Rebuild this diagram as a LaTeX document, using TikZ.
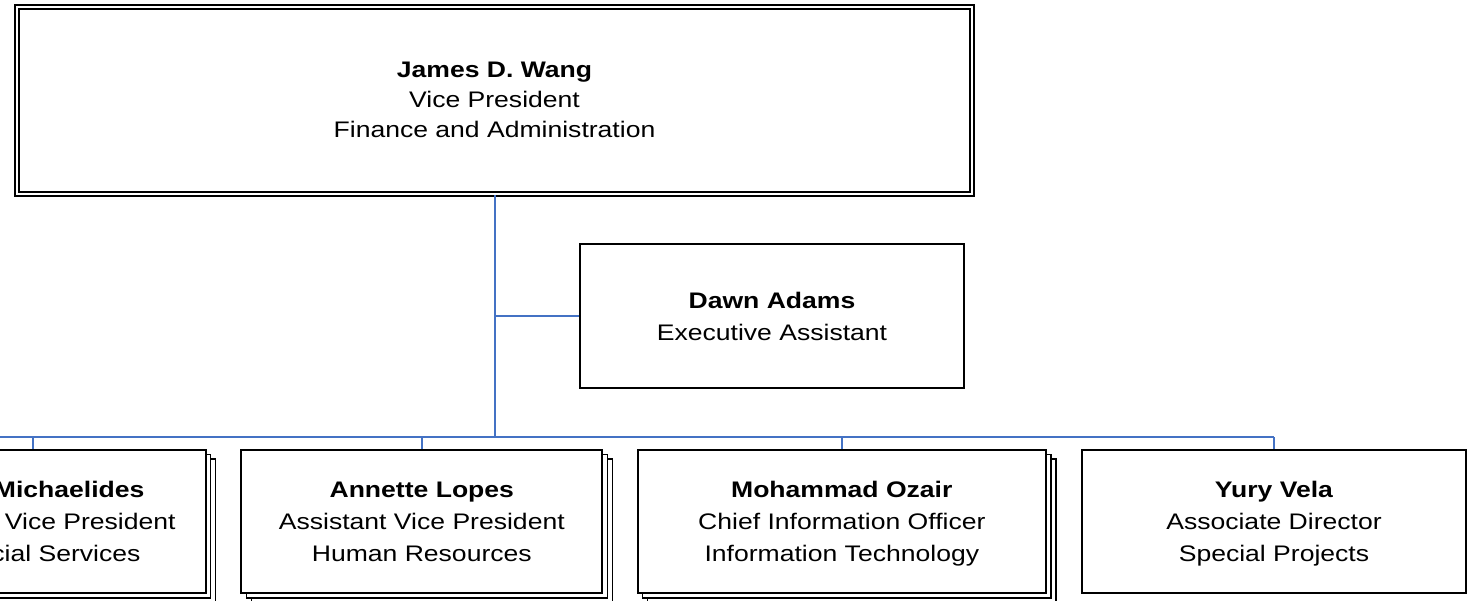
\documentclass[tikz,border=0pt]{standalone}
\usepackage{fontspec}
\setmainfont[FakeStretch=1.18]{Liberation Sans}
\usetikzlibrary{shadows}
\definecolor{linkblue}{RGB}{68,114,196}

\begin{document}
\begin{tikzpicture}[x=0.5pt, y=-0.5pt,
    orgbox/.style={draw, fill=white, line width=1pt, rectangle, inner sep=0pt,
        align=center, text depth=0pt, font=\fontsize{11.25pt}{16pt}\selectfont},
    stackbox/.style={orgbox,
        general shadow={shadow xshift=5pt, shadow yshift=-4.5pt, fill=white, draw=black, line width=0.7pt},
        general shadow={shadow xshift=2.5pt, shadow yshift=-2.25pt, fill=white, draw=black, line width=0.7pt}},
    link/.style={draw=linkblue, line width=1pt}]
    \useasboundingbox (0,0) rectangle (1473,600);
    \clip (0,0) rectangle (1473,600);
    % Head of the division
    \node[orgbox, double, double distance=1pt, minimum width=477.5pt, minimum height=93.75pt,
        font=\fontsize{11.25pt}{15pt}\selectfont] (vp) at (494.5,100.25)
        {\textbf{James D. Wang}\\Vice President\\Finance and Administration};
    % Assistant
    \node[orgbox, minimum width=192pt, minimum height=72pt] (dawn) at (772,316)
        {\textbf{Dawn Adams}\\Executive Assistant};
    % Direct reports
    \node[stackbox, minimum width=173pt, minimum height=71.7pt] (mich) at (32.7,521.7)
        {\hspace*{36.5pt}\textbf{Michaelides}\\Assistant Vice President\\Financial Services};
    \node[stackbox, minimum width=180.5pt, minimum height=71.7pt] (lopes) at (421.8,521.7)
        {\textbf{Annette Lopes}\\Assistant Vice President\\Human Resources};
    \node[stackbox, minimum width=204.2pt, minimum height=71.7pt] (ozair) at (841.8,521.7)
        {\textbf{Mohammad Ozair}\\Chief Information Officer\\Information Technology};
    \node[orgbox, minimum width=191.7pt, minimum height=71.7pt] (yury) at (1274,521.7)
        {\textbf{Yury Vela}\\Associate Director\\Special Projects};
    % Connectors
    \coordinate (bus) at (494.5,437.3);
    \coordinate (busw) at (-20,437.3);
    \draw[link] (vp.south) -- (bus);
    \draw[link] (vp.south |- dawn.west) -- (dawn.west);
    \draw[link] (busw) -- (yury.north |- bus);
    \foreach \b in {mich, lopes, ozair, yury}
        \draw[link] (\b.north |- bus) -- (\b.north);
\end{tikzpicture}
\end{document}
